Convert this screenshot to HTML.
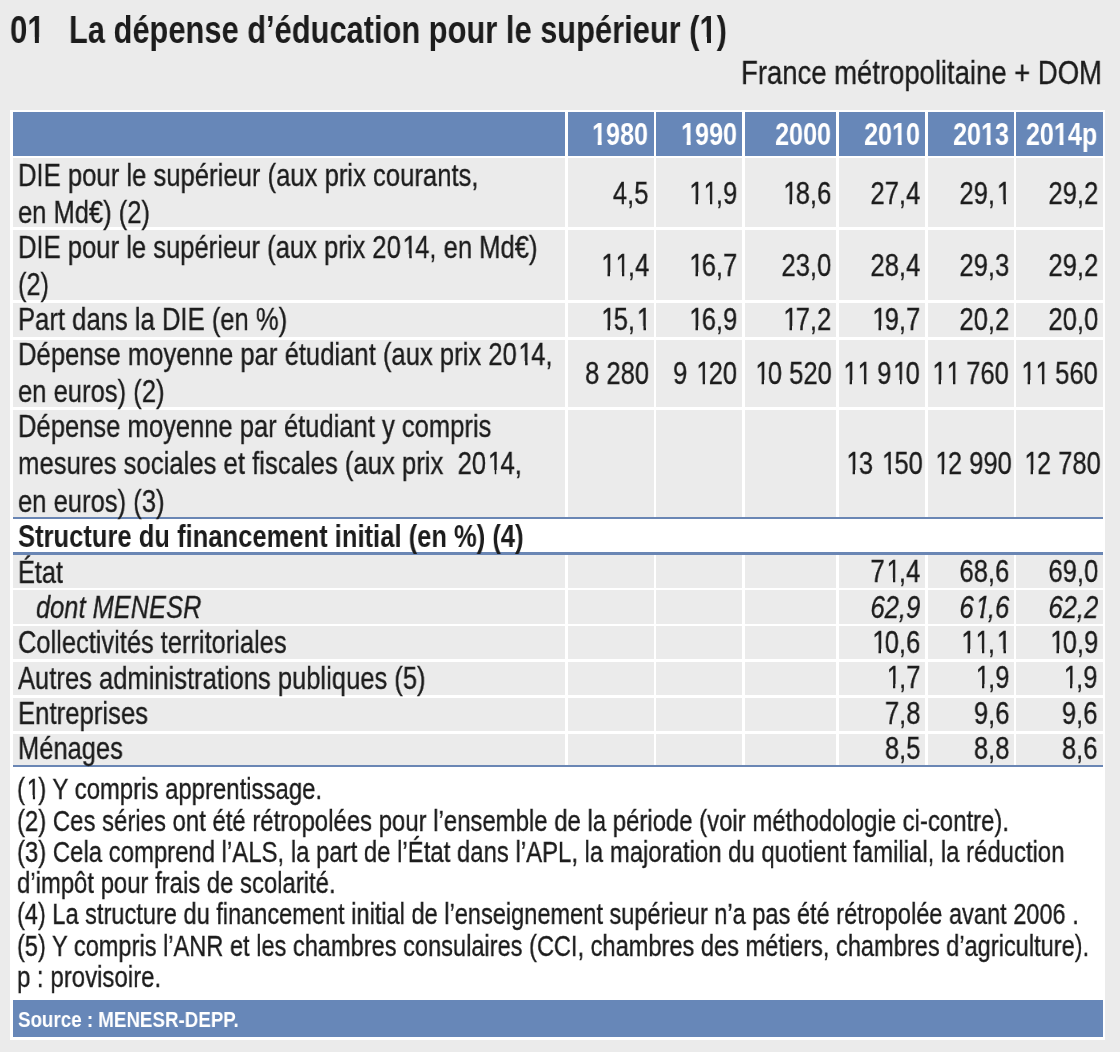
<!DOCTYPE html><html><head><meta charset="utf-8"><style>
html,body{margin:0;padding:0;}body{width:1120px;height:1052px;position:relative;overflow:hidden;background:#ebebeb;font-family:"Liberation Sans",sans-serif;}
.r{position:absolute;}.t{position:absolute;white-space:nowrap;line-height:1;will-change:transform;-webkit-text-stroke:0.35px currentColor}.t.b{-webkit-text-stroke:0}.o{position:relative;left:0.07em}.b .o{left:0}.o::before,.o::after{content:"";position:absolute;background:var(--m);bottom:0.16em;height:0.18em}.o::before{left:0.04em;width:0.2115em}.o::after{left:0.34em;width:0.2em}.b .o::before{left:0.03em;width:0.2034em;height:0.2em}.b .o::after{left:0.3706em;width:0.17em;height:0.2em}.i .o::before{left:0.01em;width:0.19em;height:0.165em}.i .o::after{left:0.31em;width:0.18em;height:0.165em}
</style></head><body>
<div class="r" style="left:10.00px;top:110.00px;width:1094.60px;height:929.60px;background:#ffffff"></div>
<div class="r" style="left:12.60px;top:112.00px;width:552.40px;height:43.70px;background:#6787b8"></div>
<div class="r" style="left:567.60px;top:112.00px;width:86.10px;height:43.70px;background:#6787b8"></div>
<div class="r" style="left:656.30px;top:112.00px;width:85.80px;height:43.70px;background:#6787b8"></div>
<div class="r" style="left:744.60px;top:112.00px;width:91.90px;height:43.70px;background:#6787b8"></div>
<div class="r" style="left:839.10px;top:112.00px;width:85.80px;height:43.70px;background:#6787b8"></div>
<div class="r" style="left:927.60px;top:112.00px;width:86.20px;height:43.70px;background:#6787b8"></div>
<div class="r" style="left:1016.40px;top:112.00px;width:86.20px;height:43.70px;background:#6787b8"></div>
<div class="r" style="left:12.60px;top:158.00px;width:552.40px;height:69.20px;background:#ebebeb"></div>
<div class="r" style="left:567.60px;top:158.00px;width:86.10px;height:69.20px;background:#ebebeb"></div>
<div class="r" style="left:656.30px;top:158.00px;width:85.80px;height:69.20px;background:#ebebeb"></div>
<div class="r" style="left:744.60px;top:158.00px;width:91.90px;height:69.20px;background:#ebebeb"></div>
<div class="r" style="left:839.10px;top:158.00px;width:85.80px;height:69.20px;background:#ebebeb"></div>
<div class="r" style="left:927.60px;top:158.00px;width:86.20px;height:69.20px;background:#ebebeb"></div>
<div class="r" style="left:1016.40px;top:158.00px;width:86.20px;height:69.20px;background:#ebebeb"></div>
<div class="r" style="left:12.60px;top:229.90px;width:552.40px;height:70.40px;background:#ebebeb"></div>
<div class="r" style="left:567.60px;top:229.90px;width:86.10px;height:70.40px;background:#ebebeb"></div>
<div class="r" style="left:656.30px;top:229.90px;width:85.80px;height:70.40px;background:#ebebeb"></div>
<div class="r" style="left:744.60px;top:229.90px;width:91.90px;height:70.40px;background:#ebebeb"></div>
<div class="r" style="left:839.10px;top:229.90px;width:85.80px;height:70.40px;background:#ebebeb"></div>
<div class="r" style="left:927.60px;top:229.90px;width:86.20px;height:70.40px;background:#ebebeb"></div>
<div class="r" style="left:1016.40px;top:229.90px;width:86.20px;height:70.40px;background:#ebebeb"></div>
<div class="r" style="left:12.60px;top:303.00px;width:552.40px;height:34.40px;background:#ebebeb"></div>
<div class="r" style="left:567.60px;top:303.00px;width:86.10px;height:34.40px;background:#ebebeb"></div>
<div class="r" style="left:656.30px;top:303.00px;width:85.80px;height:34.40px;background:#ebebeb"></div>
<div class="r" style="left:744.60px;top:303.00px;width:91.90px;height:34.40px;background:#ebebeb"></div>
<div class="r" style="left:839.10px;top:303.00px;width:85.80px;height:34.40px;background:#ebebeb"></div>
<div class="r" style="left:927.60px;top:303.00px;width:86.20px;height:34.40px;background:#ebebeb"></div>
<div class="r" style="left:1016.40px;top:303.00px;width:86.20px;height:34.40px;background:#ebebeb"></div>
<div class="r" style="left:12.60px;top:340.00px;width:552.40px;height:67.20px;background:#ebebeb"></div>
<div class="r" style="left:567.60px;top:340.00px;width:86.10px;height:67.20px;background:#ebebeb"></div>
<div class="r" style="left:656.30px;top:340.00px;width:85.80px;height:67.20px;background:#ebebeb"></div>
<div class="r" style="left:744.60px;top:340.00px;width:91.90px;height:67.20px;background:#ebebeb"></div>
<div class="r" style="left:839.10px;top:340.00px;width:85.80px;height:67.20px;background:#ebebeb"></div>
<div class="r" style="left:927.60px;top:340.00px;width:86.20px;height:67.20px;background:#ebebeb"></div>
<div class="r" style="left:1016.40px;top:340.00px;width:86.20px;height:67.20px;background:#ebebeb"></div>
<div class="r" style="left:12.60px;top:410.00px;width:552.40px;height:107.00px;background:#ebebeb"></div>
<div class="r" style="left:567.60px;top:410.00px;width:86.10px;height:107.00px;background:#ebebeb"></div>
<div class="r" style="left:656.30px;top:410.00px;width:85.80px;height:107.00px;background:#ebebeb"></div>
<div class="r" style="left:744.60px;top:410.00px;width:91.90px;height:107.00px;background:#ebebeb"></div>
<div class="r" style="left:839.10px;top:410.00px;width:85.80px;height:107.00px;background:#ebebeb"></div>
<div class="r" style="left:927.60px;top:410.00px;width:86.20px;height:107.00px;background:#ebebeb"></div>
<div class="r" style="left:1016.40px;top:410.00px;width:86.20px;height:107.00px;background:#ebebeb"></div>
<div class="r" style="left:12.60px;top:517.00px;width:1090.00px;height:2.30px;background:#6a86b4"></div>
<div class="r" style="left:12.60px;top:552.30px;width:1090.00px;height:2.50px;background:#6a86b4"></div>
<div class="r" style="left:12.60px;top:554.80px;width:552.40px;height:32.80px;background:#ebebeb"></div>
<div class="r" style="left:567.60px;top:554.80px;width:86.10px;height:32.80px;background:#ebebeb"></div>
<div class="r" style="left:656.30px;top:554.80px;width:85.80px;height:32.80px;background:#ebebeb"></div>
<div class="r" style="left:744.60px;top:554.80px;width:91.90px;height:32.80px;background:#ebebeb"></div>
<div class="r" style="left:839.10px;top:554.80px;width:85.80px;height:32.80px;background:#ebebeb"></div>
<div class="r" style="left:927.60px;top:554.80px;width:86.20px;height:32.80px;background:#ebebeb"></div>
<div class="r" style="left:1016.40px;top:554.80px;width:86.20px;height:32.80px;background:#ebebeb"></div>
<div class="r" style="left:12.60px;top:590.10px;width:552.40px;height:33.50px;background:#ebebeb"></div>
<div class="r" style="left:567.60px;top:590.10px;width:86.10px;height:33.50px;background:#ebebeb"></div>
<div class="r" style="left:656.30px;top:590.10px;width:85.80px;height:33.50px;background:#ebebeb"></div>
<div class="r" style="left:744.60px;top:590.10px;width:91.90px;height:33.50px;background:#ebebeb"></div>
<div class="r" style="left:839.10px;top:590.10px;width:85.80px;height:33.50px;background:#ebebeb"></div>
<div class="r" style="left:927.60px;top:590.10px;width:86.20px;height:33.50px;background:#ebebeb"></div>
<div class="r" style="left:1016.40px;top:590.10px;width:86.20px;height:33.50px;background:#ebebeb"></div>
<div class="r" style="left:12.60px;top:626.20px;width:552.40px;height:33.20px;background:#ebebeb"></div>
<div class="r" style="left:567.60px;top:626.20px;width:86.10px;height:33.20px;background:#ebebeb"></div>
<div class="r" style="left:656.30px;top:626.20px;width:85.80px;height:33.20px;background:#ebebeb"></div>
<div class="r" style="left:744.60px;top:626.20px;width:91.90px;height:33.20px;background:#ebebeb"></div>
<div class="r" style="left:839.10px;top:626.20px;width:85.80px;height:33.20px;background:#ebebeb"></div>
<div class="r" style="left:927.60px;top:626.20px;width:86.20px;height:33.20px;background:#ebebeb"></div>
<div class="r" style="left:1016.40px;top:626.20px;width:86.20px;height:33.20px;background:#ebebeb"></div>
<div class="r" style="left:12.60px;top:662.00px;width:552.40px;height:32.90px;background:#ebebeb"></div>
<div class="r" style="left:567.60px;top:662.00px;width:86.10px;height:32.90px;background:#ebebeb"></div>
<div class="r" style="left:656.30px;top:662.00px;width:85.80px;height:32.90px;background:#ebebeb"></div>
<div class="r" style="left:744.60px;top:662.00px;width:91.90px;height:32.90px;background:#ebebeb"></div>
<div class="r" style="left:839.10px;top:662.00px;width:85.80px;height:32.90px;background:#ebebeb"></div>
<div class="r" style="left:927.60px;top:662.00px;width:86.20px;height:32.90px;background:#ebebeb"></div>
<div class="r" style="left:1016.40px;top:662.00px;width:86.20px;height:32.90px;background:#ebebeb"></div>
<div class="r" style="left:12.60px;top:697.50px;width:552.40px;height:33.50px;background:#ebebeb"></div>
<div class="r" style="left:567.60px;top:697.50px;width:86.10px;height:33.50px;background:#ebebeb"></div>
<div class="r" style="left:656.30px;top:697.50px;width:85.80px;height:33.50px;background:#ebebeb"></div>
<div class="r" style="left:744.60px;top:697.50px;width:91.90px;height:33.50px;background:#ebebeb"></div>
<div class="r" style="left:839.10px;top:697.50px;width:85.80px;height:33.50px;background:#ebebeb"></div>
<div class="r" style="left:927.60px;top:697.50px;width:86.20px;height:33.50px;background:#ebebeb"></div>
<div class="r" style="left:1016.40px;top:697.50px;width:86.20px;height:33.50px;background:#ebebeb"></div>
<div class="r" style="left:12.60px;top:733.60px;width:552.40px;height:31.30px;background:#ebebeb"></div>
<div class="r" style="left:567.60px;top:733.60px;width:86.10px;height:31.30px;background:#ebebeb"></div>
<div class="r" style="left:656.30px;top:733.60px;width:85.80px;height:31.30px;background:#ebebeb"></div>
<div class="r" style="left:744.60px;top:733.60px;width:91.90px;height:31.30px;background:#ebebeb"></div>
<div class="r" style="left:839.10px;top:733.60px;width:85.80px;height:31.30px;background:#ebebeb"></div>
<div class="r" style="left:927.60px;top:733.60px;width:86.20px;height:31.30px;background:#ebebeb"></div>
<div class="r" style="left:1016.40px;top:733.60px;width:86.20px;height:31.30px;background:#ebebeb"></div>
<div class="r" style="left:12.60px;top:764.90px;width:1090.00px;height:2.30px;background:#6a86b4"></div>
<div class="r" style="left:12.60px;top:1000.10px;width:1090.00px;height:37.10px;background:#6787b8"></div>
<div class="t b" id="t0" style="top:9.59px;font-size:39.00px;color:#1c1c1c;font-weight:700;left:10.30px;transform:scaleX(0.8000);transform-origin:0 0;--m:#ebebeb;">0<span class="o">1</span></div>
<div class="t b" id="t1" style="top:9.59px;font-size:39.00px;color:#1c1c1c;font-weight:700;left:68.68px;transform:scaleX(0.7906);transform-origin:0 0;--m:#ebebeb;">La dépense d’éducation pour le supérieur (<span class="o">1</span>)</div>
<div class="t" id="t2" style="top:55.02px;font-size:34.00px;color:#1c1c1c;right:17.68px;transform:scaleX(0.8074);transform-origin:100% 0;--m:#ebebeb;">France métropolitaine + DOM</div>
<div class="t b" id="t3" style="top:118.94px;font-size:31.50px;color:#ffffff;font-weight:700;right:471.50px;transform:scaleX(0.8000);transform-origin:100% 0;--m:#6787b8;"><span class="o">1</span>980</div>
<div class="t b" id="t4" style="top:118.94px;font-size:31.50px;color:#ffffff;font-weight:700;right:383.10px;transform:scaleX(0.8000);transform-origin:100% 0;--m:#6787b8;"><span class="o">1</span>990</div>
<div class="t b" id="t5" style="top:118.94px;font-size:31.50px;color:#ffffff;font-weight:700;right:288.70px;transform:scaleX(0.8000);transform-origin:100% 0;--m:#6787b8;">2000</div>
<div class="t b" id="t6" style="top:118.94px;font-size:31.50px;color:#ffffff;font-weight:700;right:200.30px;transform:scaleX(0.8000);transform-origin:100% 0;--m:#6787b8;">20<span class="o">1</span>0</div>
<div class="t b" id="t7" style="top:118.94px;font-size:31.50px;color:#ffffff;font-weight:700;right:111.40px;transform:scaleX(0.8000);transform-origin:100% 0;--m:#6787b8;">20<span class="o">1</span>3</div>
<div class="t b" id="t8" style="top:118.94px;font-size:31.50px;color:#ffffff;font-weight:700;right:22.60px;transform:scaleX(0.8000);transform-origin:100% 0;--m:#6787b8;">20<span class="o">1</span>4p</div>
<div class="t" id="t9" style="top:158.61px;font-size:32.00px;color:#1c1c1c;left:17.50px;transform:scaleX(0.8016);transform-origin:0 0;--m:#ebebeb;">DIE pour le supérieur (aux prix courants,</div>
<div class="t" id="t10" style="top:195.81px;font-size:32.00px;color:#1c1c1c;left:17.50px;transform:scaleX(0.7974);transform-origin:0 0;--m:#ebebeb;">en Md€) (2)</div>
<div class="t" id="t11" style="top:231.01px;font-size:32.00px;color:#1c1c1c;left:17.50px;transform:scaleX(0.8002);transform-origin:0 0;--m:#ebebeb;">DIE pour le supérieur (aux prix 20<span class="o">1</span>4, en Md€)</div>
<div class="t" id="t12" style="top:268.01px;font-size:32.00px;color:#1c1c1c;left:17.50px;transform:scaleX(0.7900);transform-origin:0 0;--m:#ebebeb;">(2)</div>
<div class="t" id="t13" style="top:302.81px;font-size:32.00px;color:#1c1c1c;left:17.50px;transform:scaleX(0.8009);transform-origin:0 0;--m:#ebebeb;">Part dans la DIE (en %)</div>
<div class="t" id="t14" style="top:338.11px;font-size:32.00px;color:#1c1c1c;left:17.50px;transform:scaleX(0.8012);transform-origin:0 0;--m:#ebebeb;">Dépense moyenne par étudiant (aux prix 20<span class="o">1</span>4,</div>
<div class="t" id="t15" style="top:375.41px;font-size:32.00px;color:#1c1c1c;left:17.50px;transform:scaleX(0.8000);transform-origin:0 0;--m:#ebebeb;">en euros) (2)</div>
<div class="t" id="t16" style="top:409.91px;font-size:32.00px;color:#1c1c1c;left:17.50px;transform:scaleX(0.7992);transform-origin:0 0;--m:#ebebeb;">Dépense moyenne par étudiant y compris</div>
<div class="t" id="t17" style="top:447.11px;font-size:32.00px;color:#1c1c1c;left:17.50px;transform:scaleX(0.8025);transform-origin:0 0;--m:#ebebeb;">mesures sociales et fiscales (aux prix&nbsp; 20<span class="o">1</span>4,</div>
<div class="t" id="t18" style="top:484.51px;font-size:32.00px;color:#1c1c1c;left:17.50px;transform:scaleX(0.8000);transform-origin:0 0;--m:#ebebeb;">en euros) (3)</div>
<div class="t" id="t19" style="top:555.71px;font-size:32.00px;color:#1c1c1c;left:17.50px;transform:scaleX(0.7900);transform-origin:0 0;--m:#ebebeb;">État</div>
<div class="t" id="t20" style="top:626.41px;font-size:32.00px;color:#1c1c1c;left:17.50px;transform:scaleX(0.7948);transform-origin:0 0;--m:#ebebeb;">Collectivités territoriales</div>
<div class="t" id="t21" style="top:661.71px;font-size:32.00px;color:#1c1c1c;left:17.50px;transform:scaleX(0.7984);transform-origin:0 0;--m:#ebebeb;">Autres administrations publiques (5)</div>
<div class="t" id="t22" style="top:697.11px;font-size:32.00px;color:#1c1c1c;left:17.50px;transform:scaleX(0.8039);transform-origin:0 0;--m:#ebebeb;">Entreprises</div>
<div class="t" id="t23" style="top:732.41px;font-size:32.00px;color:#1c1c1c;left:17.50px;transform:scaleX(0.7963);transform-origin:0 0;--m:#ebebeb;">Ménages</div>
<div class="t i" id="t24" style="top:591.01px;font-size:32.00px;color:#1c1c1c;font-style:italic;left:35.50px;transform:scaleX(0.7948);transform-origin:0 0;--m:#ebebeb;">dont MENESR</div>
<div class="t b" id="t25" style="top:520.96px;font-size:31.00px;color:#1c1c1c;font-weight:700;left:17.80px;transform:scaleX(0.8246);transform-origin:0 0;--m:#ffffff;">Structure du financement initial (en %) (4)</div>
<div class="t" id="t26" style="top:177.31px;font-size:32.00px;color:#1c1c1c;right:471.10px;transform:scaleX(0.8000);transform-origin:100% 0;--m:#ebebeb;">4,5</div>
<div class="t" id="t27" style="top:177.31px;font-size:32.00px;color:#1c1c1c;right:382.70px;transform:scaleX(0.8000);transform-origin:100% 0;--m:#ebebeb;"><span class="o">1</span><span class="o">1</span>,9</div>
<div class="t" id="t28" style="top:177.31px;font-size:32.00px;color:#1c1c1c;right:288.30px;transform:scaleX(0.8000);transform-origin:100% 0;--m:#ebebeb;"><span class="o">1</span>8,6</div>
<div class="t" id="t29" style="top:177.31px;font-size:32.00px;color:#1c1c1c;right:199.90px;transform:scaleX(0.8000);transform-origin:100% 0;--m:#ebebeb;">27,4</div>
<div class="t" id="t30" style="top:177.31px;font-size:32.00px;color:#1c1c1c;right:111.00px;transform:scaleX(0.8000);transform-origin:100% 0;--m:#ebebeb;">29,<span class="o">1</span></div>
<div class="t" id="t31" style="top:177.31px;font-size:32.00px;color:#1c1c1c;right:22.20px;transform:scaleX(0.8000);transform-origin:100% 0;--m:#ebebeb;">29,2</div>
<div class="t" id="t32" style="top:249.41px;font-size:32.00px;color:#1c1c1c;right:471.10px;transform:scaleX(0.8000);transform-origin:100% 0;--m:#ebebeb;"><span class="o">1</span><span class="o">1</span>,4</div>
<div class="t" id="t33" style="top:249.41px;font-size:32.00px;color:#1c1c1c;right:382.70px;transform:scaleX(0.8000);transform-origin:100% 0;--m:#ebebeb;"><span class="o">1</span>6,7</div>
<div class="t" id="t34" style="top:249.41px;font-size:32.00px;color:#1c1c1c;right:288.30px;transform:scaleX(0.8000);transform-origin:100% 0;--m:#ebebeb;">23,0</div>
<div class="t" id="t35" style="top:249.41px;font-size:32.00px;color:#1c1c1c;right:199.90px;transform:scaleX(0.8000);transform-origin:100% 0;--m:#ebebeb;">28,4</div>
<div class="t" id="t36" style="top:249.41px;font-size:32.00px;color:#1c1c1c;right:111.00px;transform:scaleX(0.8000);transform-origin:100% 0;--m:#ebebeb;">29,3</div>
<div class="t" id="t37" style="top:249.41px;font-size:32.00px;color:#1c1c1c;right:22.20px;transform:scaleX(0.8000);transform-origin:100% 0;--m:#ebebeb;">29,2</div>
<div class="t" id="t38" style="top:302.81px;font-size:32.00px;color:#1c1c1c;right:471.10px;transform:scaleX(0.8000);transform-origin:100% 0;--m:#ebebeb;"><span class="o">1</span>5,<span class="o">1</span></div>
<div class="t" id="t39" style="top:302.81px;font-size:32.00px;color:#1c1c1c;right:382.70px;transform:scaleX(0.8000);transform-origin:100% 0;--m:#ebebeb;"><span class="o">1</span>6,9</div>
<div class="t" id="t40" style="top:302.81px;font-size:32.00px;color:#1c1c1c;right:288.30px;transform:scaleX(0.8000);transform-origin:100% 0;--m:#ebebeb;"><span class="o">1</span>7,2</div>
<div class="t" id="t41" style="top:302.81px;font-size:32.00px;color:#1c1c1c;right:199.90px;transform:scaleX(0.8000);transform-origin:100% 0;--m:#ebebeb;"><span class="o">1</span>9,7</div>
<div class="t" id="t42" style="top:302.81px;font-size:32.00px;color:#1c1c1c;right:111.00px;transform:scaleX(0.8000);transform-origin:100% 0;--m:#ebebeb;">20,2</div>
<div class="t" id="t43" style="top:302.81px;font-size:32.00px;color:#1c1c1c;right:22.20px;transform:scaleX(0.8000);transform-origin:100% 0;--m:#ebebeb;">20,0</div>
<div class="t" id="t44" style="top:357.41px;font-size:32.00px;color:#1c1c1c;right:471.10px;transform:scaleX(0.8000);transform-origin:100% 0;--m:#ebebeb;">8 280</div>
<div class="t" id="t45" style="top:357.41px;font-size:32.00px;color:#1c1c1c;right:382.70px;transform:scaleX(0.8000);transform-origin:100% 0;--m:#ebebeb;">9 <span class="o">1</span>20</div>
<div class="t" id="t46" style="top:357.41px;font-size:32.00px;color:#1c1c1c;right:288.30px;transform:scaleX(0.8000);transform-origin:100% 0;--m:#ebebeb;"><span class="o">1</span>0 520</div>
<div class="t" id="t47" style="top:357.41px;font-size:32.00px;color:#1c1c1c;right:199.90px;transform:scaleX(0.8000);transform-origin:100% 0;--m:#ebebeb;"><span class="o">1</span><span class="o">1</span> 9<span class="o">1</span>0</div>
<div class="t" id="t48" style="top:357.41px;font-size:32.00px;color:#1c1c1c;right:111.00px;transform:scaleX(0.8000);transform-origin:100% 0;--m:#ebebeb;"><span class="o">1</span><span class="o">1</span> 760</div>
<div class="t" id="t49" style="top:357.41px;font-size:32.00px;color:#1c1c1c;right:22.20px;transform:scaleX(0.8000);transform-origin:100% 0;--m:#ebebeb;"><span class="o">1</span><span class="o">1</span> 560</div>
<div class="t" id="t50" style="top:447.41px;font-size:32.00px;color:#1c1c1c;right:196.70px;transform:scaleX(0.8000);transform-origin:100% 0;--m:#ebebeb;"><span class="o">1</span>3 <span class="o">1</span>50</div>
<div class="t" id="t51" style="top:447.41px;font-size:32.00px;color:#1c1c1c;right:107.80px;transform:scaleX(0.8000);transform-origin:100% 0;--m:#ebebeb;"><span class="o">1</span>2 990</div>
<div class="t" id="t52" style="top:447.41px;font-size:32.00px;color:#1c1c1c;right:19.00px;transform:scaleX(0.8000);transform-origin:100% 0;--m:#ebebeb;"><span class="o">1</span>2 780</div>
<div class="t" id="t53" style="top:555.41px;font-size:32.00px;color:#1c1c1c;right:199.90px;transform:scaleX(0.8000);transform-origin:100% 0;--m:#ebebeb;">7<span class="o">1</span>,4</div>
<div class="t" id="t54" style="top:555.41px;font-size:32.00px;color:#1c1c1c;right:111.00px;transform:scaleX(0.8000);transform-origin:100% 0;--m:#ebebeb;">68,6</div>
<div class="t" id="t55" style="top:555.41px;font-size:32.00px;color:#1c1c1c;right:22.20px;transform:scaleX(0.8000);transform-origin:100% 0;--m:#ebebeb;">69,0</div>
<div class="t i" id="t56" style="top:590.71px;font-size:32.00px;color:#1c1c1c;font-style:italic;right:199.90px;transform:scaleX(0.8000);transform-origin:100% 0;--m:#ebebeb;">62,9</div>
<div class="t i" id="t57" style="top:590.71px;font-size:32.00px;color:#1c1c1c;font-style:italic;right:111.00px;transform:scaleX(0.8000);transform-origin:100% 0;--m:#ebebeb;">6<span class="o">1</span>,6</div>
<div class="t i" id="t58" style="top:590.71px;font-size:32.00px;color:#1c1c1c;font-style:italic;right:22.20px;transform:scaleX(0.8000);transform-origin:100% 0;--m:#ebebeb;">62,2</div>
<div class="t" id="t59" style="top:626.11px;font-size:32.00px;color:#1c1c1c;right:199.90px;transform:scaleX(0.8000);transform-origin:100% 0;--m:#ebebeb;"><span class="o">1</span>0,6</div>
<div class="t" id="t60" style="top:626.11px;font-size:32.00px;color:#1c1c1c;right:111.00px;transform:scaleX(0.8000);transform-origin:100% 0;--m:#ebebeb;"><span class="o">1</span><span class="o">1</span>,<span class="o">1</span></div>
<div class="t" id="t61" style="top:626.11px;font-size:32.00px;color:#1c1c1c;right:22.20px;transform:scaleX(0.8000);transform-origin:100% 0;--m:#ebebeb;"><span class="o">1</span>0,9</div>
<div class="t" id="t62" style="top:661.41px;font-size:32.00px;color:#1c1c1c;right:199.90px;transform:scaleX(0.8000);transform-origin:100% 0;--m:#ebebeb;"><span class="o">1</span>,7</div>
<div class="t" id="t63" style="top:661.41px;font-size:32.00px;color:#1c1c1c;right:111.00px;transform:scaleX(0.8000);transform-origin:100% 0;--m:#ebebeb;"><span class="o">1</span>,9</div>
<div class="t" id="t64" style="top:661.41px;font-size:32.00px;color:#1c1c1c;right:22.20px;transform:scaleX(0.8000);transform-origin:100% 0;--m:#ebebeb;"><span class="o">1</span>,9</div>
<div class="t" id="t65" style="top:696.81px;font-size:32.00px;color:#1c1c1c;right:199.90px;transform:scaleX(0.8000);transform-origin:100% 0;--m:#ebebeb;">7,8</div>
<div class="t" id="t66" style="top:696.81px;font-size:32.00px;color:#1c1c1c;right:111.00px;transform:scaleX(0.8000);transform-origin:100% 0;--m:#ebebeb;">9,6</div>
<div class="t" id="t67" style="top:696.81px;font-size:32.00px;color:#1c1c1c;right:22.20px;transform:scaleX(0.8000);transform-origin:100% 0;--m:#ebebeb;">9,6</div>
<div class="t" id="t68" style="top:732.11px;font-size:32.00px;color:#1c1c1c;right:199.90px;transform:scaleX(0.8000);transform-origin:100% 0;--m:#ebebeb;">8,5</div>
<div class="t" id="t69" style="top:732.11px;font-size:32.00px;color:#1c1c1c;right:111.00px;transform:scaleX(0.8000);transform-origin:100% 0;--m:#ebebeb;">8,8</div>
<div class="t" id="t70" style="top:732.11px;font-size:32.00px;color:#1c1c1c;right:22.20px;transform:scaleX(0.8000);transform-origin:100% 0;--m:#ebebeb;">8,6</div>
<div class="t" id="t71" style="top:773.27px;font-size:30.40px;color:#1c1c1c;left:16.60px;transform:scaleX(0.7875);transform-origin:0 0;--m:#ffffff;">(<span class="o">1</span>) Y compris apprentissage.</div>
<div class="t" id="t72" style="top:804.57px;font-size:30.40px;color:#1c1c1c;left:16.60px;transform:scaleX(0.7872);transform-origin:0 0;--m:#ffffff;">(2) Ces séries ont été rétropolées pour l’ensemble de la période (voir méthodologie ci-contre).</div>
<div class="t" id="t73" style="top:835.87px;font-size:30.40px;color:#1c1c1c;left:16.60px;transform:scaleX(0.7869);transform-origin:0 0;--m:#ffffff;">(3) Cela comprend l’ALS, la part de l’État dans l’APL, la majoration du quotient familial, la réduction</div>
<div class="t" id="t74" style="top:867.17px;font-size:30.40px;color:#1c1c1c;left:16.60px;transform:scaleX(0.7859);transform-origin:0 0;--m:#ffffff;">d’impôt pour frais de scolarité.</div>
<div class="t" id="t75" style="top:898.47px;font-size:30.40px;color:#1c1c1c;left:16.60px;transform:scaleX(0.7759);transform-origin:0 0;--m:#ffffff;">(4) La structure du financement initial de l’enseignement supérieur n’a pas été rétropolée avant 2006 .</div>
<div class="t" id="t76" style="top:929.77px;font-size:30.40px;color:#1c1c1c;left:16.60px;transform:scaleX(0.7767);transform-origin:0 0;--m:#ffffff;">(5) Y compris l’ANR et les chambres consulaires (CCI, chambres des métiers, chambres d’agriculture).</div>
<div class="t" id="t77" style="top:961.07px;font-size:30.40px;color:#1c1c1c;left:16.60px;transform:scaleX(0.7903);transform-origin:0 0;--m:#ffffff;">p : provisoire.</div>
<div class="t b" id="t78" style="top:1008.74px;font-size:22.40px;color:#ffffff;font-weight:700;left:17.58px;transform:scaleX(0.8376);transform-origin:0 0;--m:#6787b8;">Source : MENESR-DEPP.</div>
</body></html>
